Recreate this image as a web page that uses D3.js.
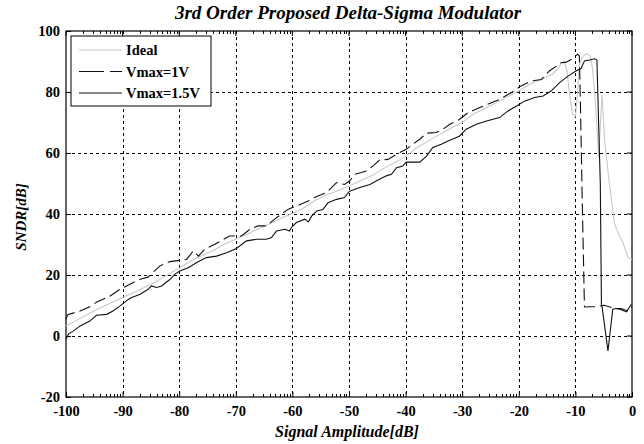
<!DOCTYPE html>
<html>
<head>
<meta charset="utf-8">
<script src="https://cdn.jsdelivr.net/npm/d3@7"></script>
<style>
  body { margin: 0; background: #fff; }
  svg { display: block; }
  text { font-family: "Liberation Serif", "Times New Roman", serif; font-weight: bold; }
</style>
</head>
<body>
<div id="chart"></div>
<script>
// chart data
const title = '3rd Order Proposed Delta-Sigma Modulator';
const xTicks = [-100, -90, -80, -70, -60, -50, -40, -30, -20, -10, 0];
const yTicks = [-20, 0, 20, 40, 60, 80, 100];
const seriesNames = ['Ideal', 'Vmax=1V', 'Vmax=1.5V'];

const ampIdeal = [-100, -98, -96, -94, -92, -90, -88, -86, -84, -82, -80, -78, -76, -74, -72, -70,
    -68, -66, -64, -62, -60, -58, -56, -54, -52, -50, -48, -46, -44, -42, -40, -38, -36, -34,
    -32, -30, -28, -26, -24, -22, -20, -18, -16, -14, -13, -12.5, -12, -11.5, -11, -10.5, -10,
    -9.6, -9.3, -8.8, -8, -7.4, -7, -6.6, -6.2, -5.9, -5.3, -4.85, -4, -3.1, -2.5, -1.6, -0.7, 0];
const sndrIdeal = [3.3, 5.2, 7.3, 9.2, 10.9, 12.6, 14.3, 16.1, 17.9, 20.2, 22.2, 24.6, 26.3, 28.0,
    30.1, 31.8, 33.4, 35.2, 36.8, 38.6, 40.2, 42.0, 44.4, 46.2, 47.6, 49.2, 50.9, 52.5, 54.8,
    56.8, 58.9, 61.8, 63.9, 66.1, 68.1, 70.0, 72.8, 74.6, 76.5, 78.4, 80.3, 82.6, 84.2, 85.9,
    87.8, 89.5, 90.0, 87, 79, 72.6, 72.1, 80, 88.5, 91.5, 92.6, 91.8, 88, 80, 69, 58.5, 79,
    64.5, 50, 37, 34, 30.6, 25.7, 25];

const ampV1 = [-100, -99.7, -97.5, -95.8, -94.6, -92.2, -90.5, -88.7, -86.9, -85.5, -83.4, -81.6,
    -78.7, -77.5, -76.6, -75.5, -73.7, -71.1, -69.0, -67.5, -66.1, -64.6, -62.8, -60.8, -59.3,
    -57.2, -55.7, -54.0, -52.2, -50.8, -49.9, -49.0, -47.8, -47.0, -45.8, -44.6, -43.1, -41.6,
    -39.9, -38.7, -37.5, -36.3, -34.6, -33.4, -32.2, -30.5, -29.0, -26.9, -25.5, -23.4, -21.3,
    -19.6, -17.8, -16.0, -14.6, -12.5, -11.6, -10.5, -9.6, -9.3, -9.1, -8.8, -8.4, -7.5, -6.3,
    -4.9, -3.1, -1.9, -0.7, 0];
const sndrV1 = [5.5, 7.0, 8.2, 9.6, 11.1, 13.1, 15.3, 17.0, 18.6, 19.3, 23.0, 24.4, 25.1, 27.9,
    26.2, 28.4, 30.1, 32.8, 32.8, 35.0, 36.1, 36.1, 38.8, 41.5, 42.6, 44.3, 45.7, 47.0, 50.3,
    49.7, 50.8, 53.0, 53.6, 54.1, 55.7, 57.7, 57.9, 59.6, 61.2, 62.9, 64.5, 66.5, 66.7, 67.8,
    69.4, 71.0, 73.2, 74.9, 76.0, 77.6, 79.8, 82.0, 83.6, 84.1, 86.9, 89.6, 89.8, 90.9, 92.4,
    91.8, 75, 45, 9.5, 9.6, 9.6, 10.1, 9.0, 9.0, 8.2, 9.6];

const ampV15 = [-100, -99.5, -98.7, -97.5, -95.8, -94.6, -92.8, -91.7, -90.5, -89.9, -89.0, -88.4,
    -86.9, -85.5, -84.9, -84.0, -83.1, -81.6, -80.8, -79.9, -78.4, -76.9, -75.2, -73.4, -71.6,
    -69.9, -68.1, -66.3, -64.6, -63.7, -62.8, -61.3, -60.5, -60.2, -59.3, -57.8, -57.2, -56.6,
    -55.7, -54.6, -53.7, -52.2, -50.8, -49.9, -48.1, -46.3, -45.2, -43.4, -42.5, -41.6, -40.5,
    -39.9, -37.5, -36.3, -35.2, -33.7, -32.5, -30.5, -29.3, -27.5, -25.7, -23.4, -21.9, -20.4,
    -19.0, -17.2, -15.7, -14.3, -12.8, -11.3, -9.9, -9.0, -8.4, -7.5, -6.6, -6.2, -5.9, -5.6,
    -5.4, -5.3, -4.25, -3.4, -2.8, -1.9, -1.0, -0.1];
const sndrV15 = [-1.1, 0.8, 1.6, 3.3, 4.9, 6.8, 7.1, 8.2, 9.8, 10.7, 12.0, 12.6, 13.7, 15.3, 16.4,
    15.9, 16.4, 18.6, 20.2, 21.3, 22.4, 24.1, 25.7, 26.2, 27.3, 28.7, 31.2, 31.7, 31.7, 32.3,
    34.4, 35.0, 34.4, 35.5, 37.2, 38.3, 37.4, 39.3, 41.0, 41.5, 43.7, 44.8, 45.4, 47.5, 48.7,
    49.7, 50.8, 52.5, 53.0, 55.2, 55.7, 57.0, 57.0, 59.0, 61.8, 62.9, 63.9, 65.5, 67.8, 69.4,
    70.5, 71.6, 73.8, 75.4, 77.0, 78.2, 78.7, 80.3, 83.1, 85.2, 86.9, 87.7, 90.2, 90.5, 90.9,
    90.5, 70, 50, 10.4, 9.8, -4.9, 8.8, 9.0, 8.6, 7.9, 10.4];

const W = 644, H = 444;
const margin = { top: 31, right: 12, bottom: 47, left: 66 };

const svg = d3.select('#chart').append('svg')
    .attr('width', W)
    .attr('height', H);

const x = d3.scaleLinear().domain([-100, 0]).range([margin.left, W - margin.right]);
const y = d3.scaleLinear().domain([-20, 100]).range([H - margin.bottom, margin.top]);

// grid
const grid = svg.append('g')
    .attr('stroke', '#000')
    .attr('stroke-width', 1)
    .attr('stroke-dasharray', '3,3');
grid.selectAll('.gx')
    .data(xTicks.slice(1, -1))
    .enter()
    .append('line')
    .attr('x1', (d) => Math.round(x(d)) + 0.5)
    .attr('x2', (d) => Math.round(x(d)) + 0.5)
    .attr('y1', y(100))
    .attr('y2', y(-20));
grid.selectAll('.gy')
    .data(yTicks.slice(1, -1))
    .enter()
    .append('line')
    .attr('y1', (d) => Math.round(y(d)) + 0.5)
    .attr('y2', (d) => Math.round(y(d)) + 0.5)
    .attr('x1', x(-100))
    .attr('x2', x(0));

// minor ticks, log spaced inside each decade (as in the original figure)
const minor = [];
xTicks.slice(0, -1).forEach((t) => {
    for (let k = 2; k <= 9; k++) minor.push(t + 10 * Math.log10(k));
});
[y(-20), y(100)].forEach((yy, i) => {
    svg.append('g').selectAll('line')
        .data(minor)
        .enter()
        .append('line')
        .attr('x1', (d) => Math.round(x(d)) + 0.5)
        .attr('x2', (d) => Math.round(x(d)) + 0.5)
        .attr('y1', yy)
        .attr('y2', i === 0 ? yy - 3 : yy + 3)
        .attr('stroke', '#000');
});

// axes (plain hyphen for negatives, like the original)
const fmt = (d) => String(d);
const xAxis = svg.append('g')
    .attr('transform', `translate(0,${y(-20)})`)
    .call(d3.axisBottom(x).tickValues(xTicks).tickFormat(fmt)
        .tickSizeInner(-5).tickSizeOuter(0).tickPadding(9));
const yAxis = svg.append('g')
    .attr('transform', `translate(${x(-100)},0)`)
    .call(d3.axisLeft(y).tickValues(yTicks).tickFormat(fmt)
        .tickSizeInner(-5).tickSizeOuter(0).tickPadding(6));
[xAxis, yAxis].forEach((a) => {
    a.select('.domain').remove();
    a.selectAll('text').attr('font-size', 14.5).attr('fill', '#000')
        .style('font-family', '"Liberation Serif", serif').style('font-weight', 'bold');
});
// right and top ticks
svg.append('g').selectAll('line')
    .data(yTicks)
    .enter()
    .append('line')
    .attr('x1', x(0) - 5)
    .attr('x2', x(0))
    .attr('y1', (d) => y(d))
    .attr('y2', (d) => y(d))
    .attr('stroke', '#000');
svg.append('g').selectAll('line')
    .data(xTicks)
    .enter()
    .append('line')
    .attr('x1', (d) => x(d))
    .attr('x2', (d) => x(d))
    .attr('y1', y(100))
    .attr('y2', y(100) + 5)
    .attr('stroke', '#000');

// frame
svg.append('rect')
    .attr('x', x(-100))
    .attr('y', y(100))
    .attr('width', x(0) - x(-100))
    .attr('height', y(-20) - y(100))
    .attr('fill', 'none')
    .attr('stroke', '#000')
    .attr('stroke-width', 1.2);

// series
const line = d3.line().x((d) => x(d[0])).y((d) => y(d[1]));
const series = [
    { amp: ampIdeal, sndr: sndrIdeal, color: '#c8c8c8', dash: null },
    { amp: ampV1, sndr: sndrV1, color: '#111', dash: '12,5' },
    { amp: ampV15, sndr: sndrV15, color: '#111', dash: null },
];
series.forEach((s) => {
    svg.append('path')
        .datum(d3.zip(s.amp, s.sndr))
        .attr('d', line)
        .attr('fill', 'none')
        .attr('stroke', s.color)
        .attr('stroke-width', 1.1)
        .attr('stroke-dasharray', s.dash);
});

// legend
const lg = svg.append('g').attr('transform', 'translate(71,36)');
lg.append('rect')
    .attr('width', 140)
    .attr('height', 70)
    .attr('fill', '#fff')
    .attr('stroke', '#000');
series.forEach((s, i) => {
    const yy = 14 + i * 21.5;
    lg.append('line')
        .attr('x1', 8)
        .attr('x2', 51)
        .attr('y1', yy)
        .attr('y2', yy)
        .attr('stroke', s.color)
        .attr('stroke-width', 1.1)
        .attr('stroke-dasharray', s.dash ? '25,6' : null);
    lg.append('text')
        .attr('x', 55)
        .attr('y', yy + 5)
        .attr('font-size', 14.5)
        .text(seriesNames[i]);
});

// titles
svg.append('text')
    .attr('x', 348)
    .attr('y', 19)
    .attr('text-anchor', 'middle')
    .attr('font-size', 19)
    .style('font-style', 'italic')
    .text(title);
svg.append('text')
    .attr('x', 347)
    .attr('y', 437)
    .attr('text-anchor', 'middle')
    .attr('font-size', 16)
    .style('font-style', 'italic')
    .text('Signal Amplitude[dB]');
svg.append('text')
    .attr('transform', 'translate(26,217) rotate(-90)')
    .attr('text-anchor', 'middle')
    .attr('font-size', 15)
    .style('font-style', 'italic')
    .text('SNDR[dB]');
</script>
</body>
</html>
